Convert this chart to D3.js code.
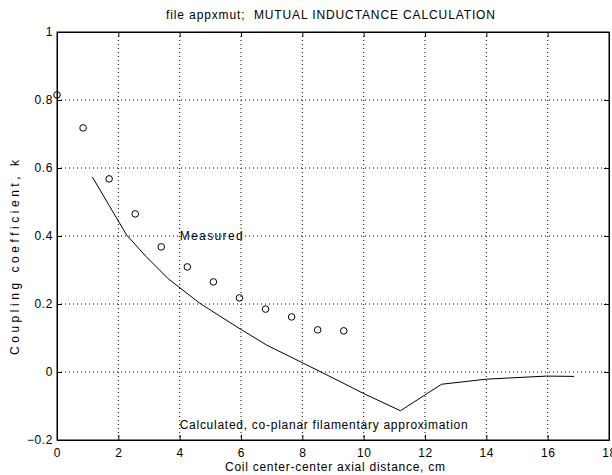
<!DOCTYPE html>
<html><head><meta charset="utf-8">
<script src="https://cdn.jsdelivr.net/npm/d3@7"></script>
<style>body{margin:0;background:#fff}svg text{font-family:"Liberation Sans",Arial,sans-serif;fill:#000}</style>
</head><body>
<script>
const titleText = "file appxmut;  MUTUAL INDUCTANCE CALCULATION";
const xLabel = "Coil center-center axial distance, cm";
const yLabel = "Coupling coefficient, k";
const xTicks = [0,2,4,6,8,10,12,14,16,18];
const yTicks = [-0.2,0,0.2,0.4,0.6,0.8,1];
const measuredX = [0,0.85,1.7,2.55,3.4,4.25,5.1,5.95,6.8,7.65,8.5,9.35];
const measuredK = [0.815,0.718,0.568,0.465,0.368,0.309,0.265,0.218,0.185,0.162,0.124,0.121];
const calcX = [1.15,1.7,2.27,2.9,3.63,4.66,5.3,6.02,6.84,8.03,9.23,9.99,11.2,12.54,14.01,15.97,16.86];
const calcK = [0.574,0.49,0.403,0.34,0.274,0.202,0.165,0.124,0.079,0.026,-0.028,-0.063,-0.114,-0.036,-0.021,-0.012,-0.013];
const annotations = [{x:4,y:0.4,text:"Measured",len:63},{x:4,y:-0.155,text:"Calculated, co-planar filamentary approximation",len:288}];

const W=612,H=475, L=57,R=609,T=32,B=440;
const svg=d3.select("body").append("svg").attr("width",W).attr("height",H);
const x=d3.scaleLinear().domain([0,18]).range([L,R]);
const y=d3.scaleLinear().domain([-0.2,1]).range([B,T]);

// grid
const g=svg.append("g");
xTicks.slice(1,-1).forEach(t=>g.append("line").attr("x1",x(t)).attr("x2",x(t)).attr("y1",T).attr("y2",B)
  .attr("stroke","#000").attr("stroke-width",1).attr("stroke-dasharray","1,3"));
yTicks.slice(1,-1).forEach(t=>g.append("line").attr("x1",L).attr("x2",R).attr("y1",y(t)).attr("y2",y(t))
  .attr("stroke","#000").attr("stroke-width",1).attr("stroke-dasharray","1,3"));

// axes
const ax=d3.axisBottom(x).tickValues(xTicks).tickSizeInner(-5).tickSizeOuter(0).tickPadding(8).tickFormat(d3.format("d"));
const gx=svg.append("g").attr("transform",`translate(0,${B})`).call(ax);
const ay=d3.axisLeft(y).tickValues(yTicks).tickSizeInner(-5).tickSizeOuter(0).tickPadding(4).tickFormat(d=>d===0?"0":d3.format("")(d));
const gy=svg.append("g").attr("transform",`translate(${L},0)`).call(ay);
const axTop=d3.axisTop(x).tickValues(xTicks).tickSizeInner(-5).tickSizeOuter(0).tickFormat("");
svg.append("g").attr("transform",`translate(0,${T})`).call(axTop);
const axRight=d3.axisRight(y).tickValues(yTicks).tickSizeInner(-5).tickSizeOuter(0).tickFormat("");
svg.append("g").attr("transform",`translate(${R},0)`).call(axRight);
svg.selectAll(".domain").attr("stroke","#000");
svg.selectAll(".tick line").attr("stroke","#000");
svg.selectAll(".tick text").attr("font-size",12).attr("font-family","Liberation Sans, Arial, sans-serif").attr("letter-spacing","0.6px");
gx.selectAll(".tick text").attr("dy","0.71em");
svg.append("rect").attr("x",L).attr("y",T).attr("width",R-L).attr("height",B-T).attr("fill","none").attr("stroke","#000");

// calculated line
const line=d3.line().x(d=>x(d[0])).y(d=>y(d[1]));
svg.append("path").datum(calcX.map((v,i)=>[v,calcK[i]])).attr("d",line).attr("fill","none").attr("stroke","#000").attr("stroke-width",1);

// measured
svg.append("g").selectAll("circle").data(measuredX.map((v,i)=>[v,measuredK[i]])).join("circle")
  .attr("cx",d=>x(d[0])).attr("cy",d=>y(d[1])).attr("r",3.3).attr("fill","none").attr("stroke","#000").attr("stroke-width",1);

// annotations
annotations.forEach(a=>svg.append("text").attr("x",x(a.x)).attr("y",y(a.y)).attr("dy","0.35em").attr("font-size",12)
  .attr("textLength",a.len).attr("lengthAdjust","spacing").text(a.text));

// labels
svg.append("text").attr("x",166).attr("y",19).attr("font-size",12).style("white-space","pre")
  .attr("textLength",329).attr("lengthAdjust","spacing").text(titleText);
svg.append("text").attr("x",225).attr("y",471).attr("font-size",12)
  .attr("textLength",220).attr("lengthAdjust","spacing").text(xLabel);
svg.append("text").attr("transform",`translate(19,355) rotate(-90)`).attr("font-size",12)
  .attr("textLength",195).attr("lengthAdjust","spacing").text(yLabel);
</script>
</body></html>
